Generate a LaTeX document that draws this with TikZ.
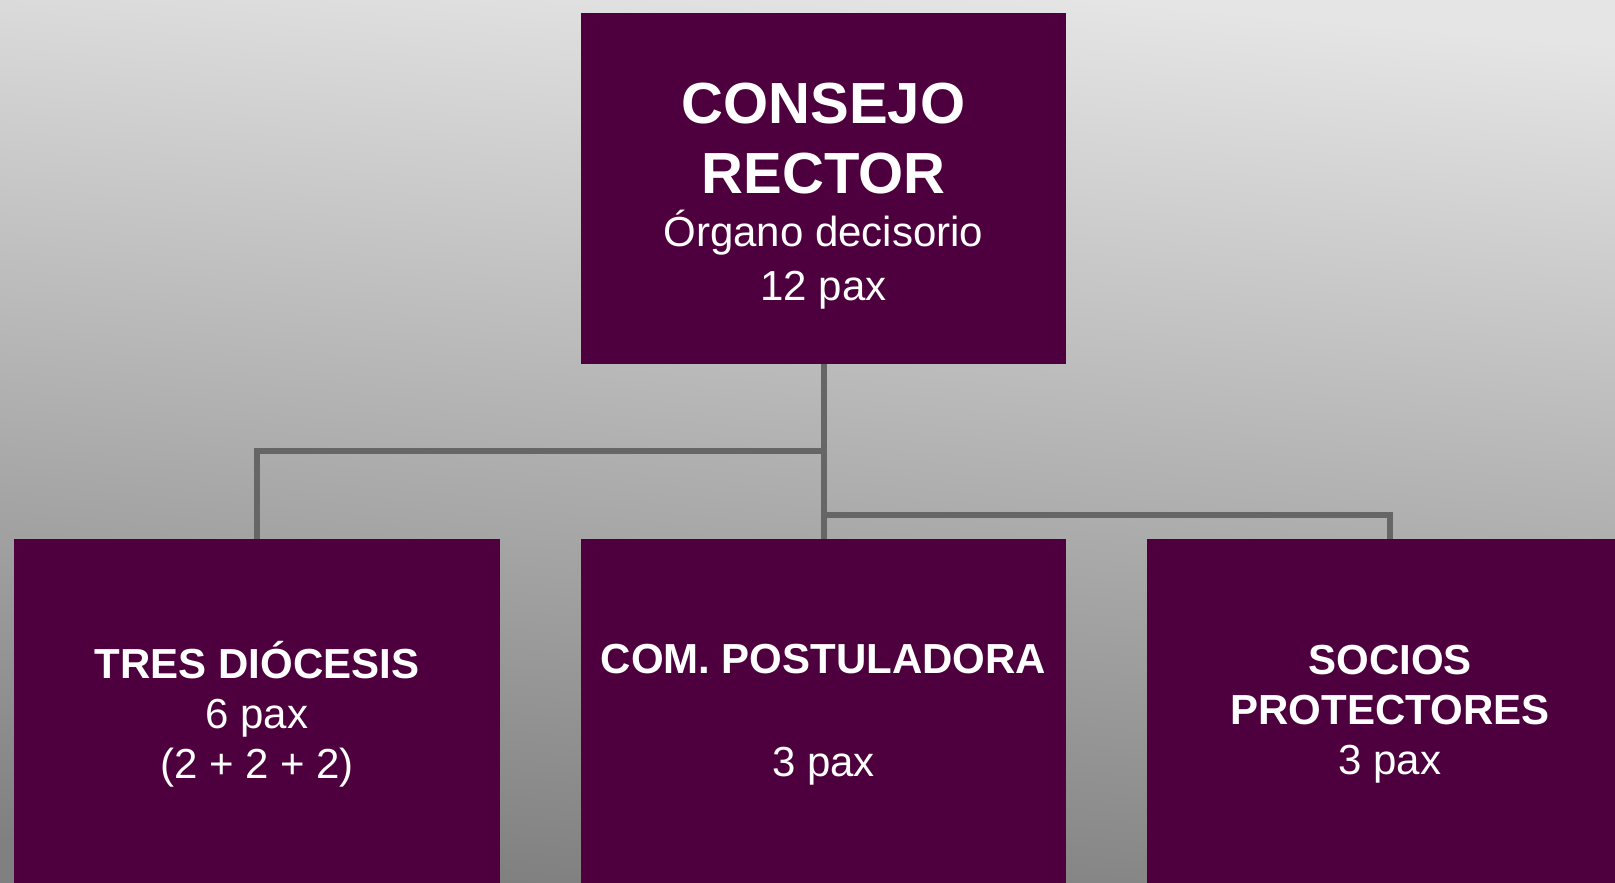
\documentclass[tikz,border=0pt]{standalone}
\usepackage{fontspec}
\setmainfont{Liberation Sans}
\definecolor{boxpurple}{RGB}{78,0,62}
\definecolor{linkgray}{RGB}{102,102,102}
\newcommand{\titlefont}{\fontsize{58}{70}\selectfont\bfseries}
\begin{document}
\begin{tikzpicture}[x=1pt,y=-1pt,
    box/.style={fill=boxpurple,text=white,align=center,inner sep=0pt,
      minimum width=486pt,minimum height=351pt,
      font=\fontsize{42}{50}\selectfont},
    link/.style={draw=linkgray,line width=6pt}]
    \path[use as bounding box,clip] (0,0) rectangle (1615,883);
    \shade[top color=black!10,bottom color=black!50,shading angle=-5] (0,0) rectangle (1615,883);
    \node[box,minimum width=485pt] (rector) at (823.5,188.5)
        {\rule{0pt}{55pt}{\titlefont CONSEJO}\\[20pt]{\titlefont RECTOR}\\[3pt]Órgano decisorio\\[4pt]12 pax};
    \node[box] (diocesis) at (257,714.5) {{\bfseries TRES DIÓCESIS}\\6 pax\\(2 + 2 + 2)};
    \node[box,minimum width=485pt] (postuladora) at (823.5,714.5) {{\bfseries COM. POSTULADORA}\\[53pt]3 pax};
    \node[box] (socios) at (1390,714.5) {{\bfseries SOCIOS}\\{\bfseries PROTECTORES}\\3 pax};
    \coordinate (forkl) at (823.5,451);
    \coordinate (forkr) at (823.5,515);
    \draw[link] (rector.south) -- (postuladora.north);
    \draw[link] (forkl) -| (diocesis.north);
    \draw[link] (forkr) -| (socios.north);
\end{tikzpicture}
\end{document}
